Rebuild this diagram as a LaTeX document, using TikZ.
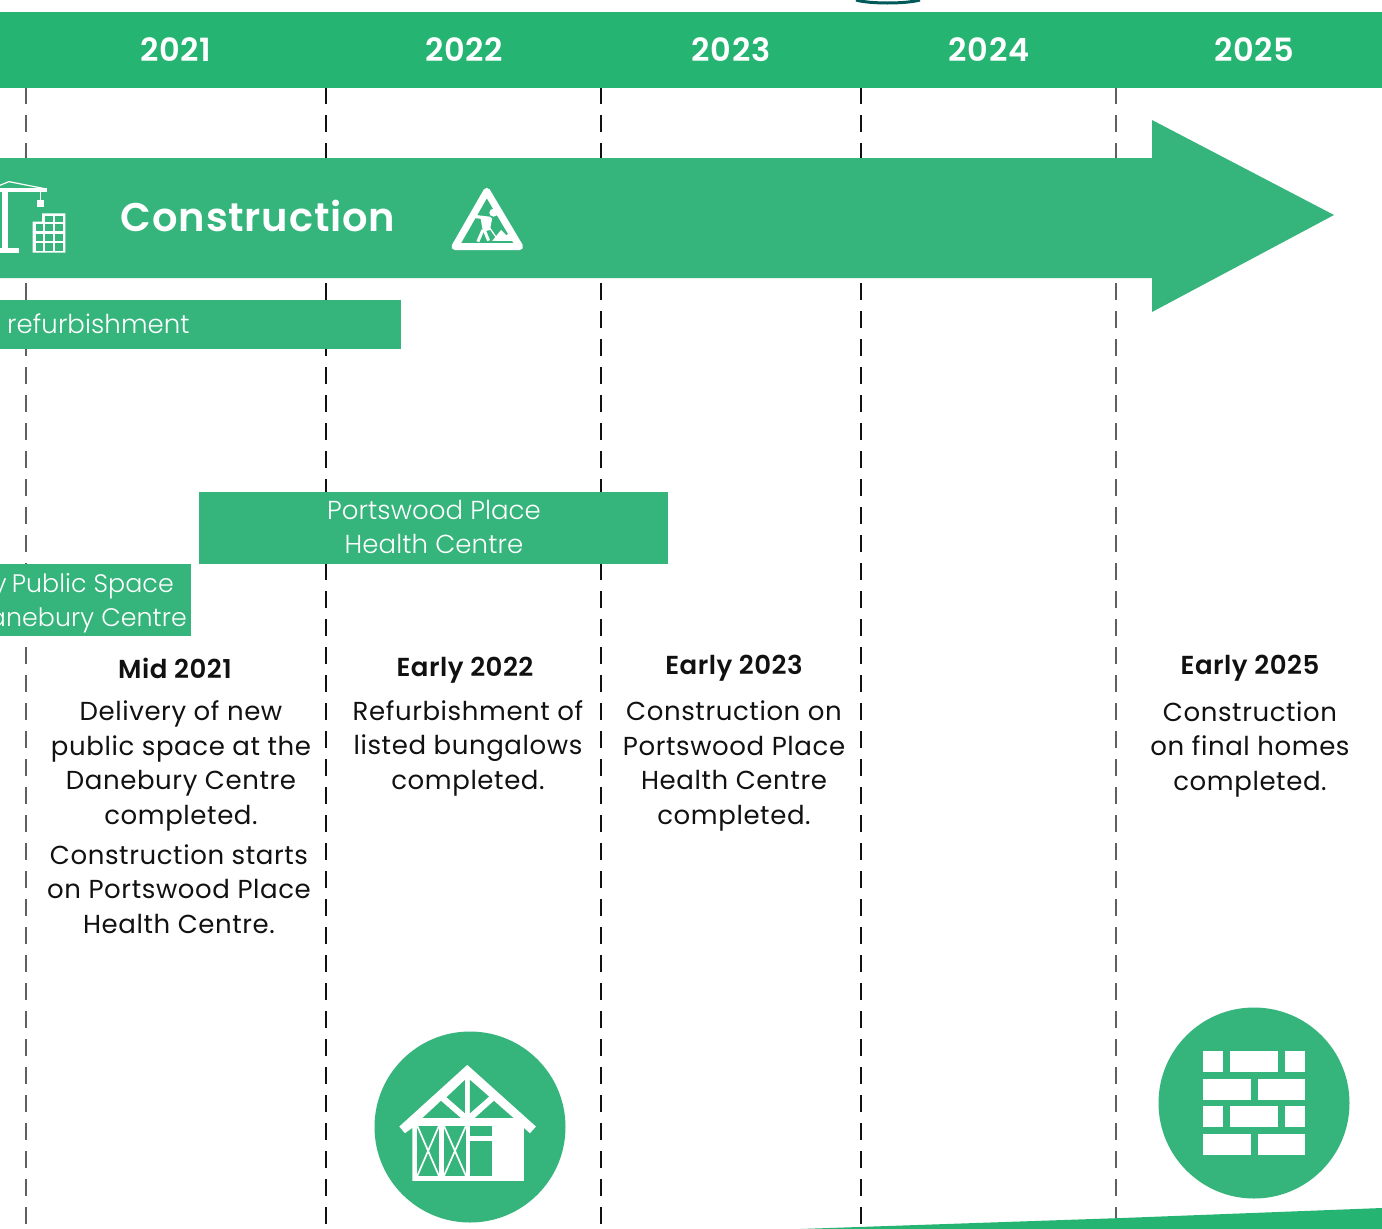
\documentclass[tikz,border=0pt]{standalone}
\usepackage{fontspec}
\setmainfont{Poppins}[LetterSpace=2.3]
\newfontfamily\barfont{Poppins Light}[LetterSpace=0.3]
\newfontfamily\medfont{Poppins SemiBold}[LetterSpace=2.0]
\definecolor{hdr}{HTML}{25B472}
\definecolor{grn}{HTML}{35B57C}
\definecolor{ink}{HTML}{111111}
\newcommand{\bodyfs}{\fontsize{26}{34.5}\selectfont}
\tikzset{
  px/.style={x=1pt,y=-1pt},
  zc/.style={x=0.3333pt,y=-0.3333pt},
  zd/.style={x=0.35714pt,y=-0.3333pt},
  guide/.style={line width=1.1pt,dash pattern=on 17pt off 11pt},
  yearlabel/.style={text=white,font=\fontsize{32}{36}\medfont\selectfont},
  barlabel/.style={text=white,align=center,font=\bodyfs\barfont,inner sep=0pt},
  publabel/.style={text=white,font=\fontsize{25.3}{34.5}\barfont\selectfont,inner sep=0pt},
  datelabel/.style={text=ink,font=\fontsize{26}{32}\medfont\selectfont,inner sep=0pt},
  bodytext/.style={text=ink,align=center,font=\bodyfs,inner sep=0pt},
  iconcircle/.style={fill=grn,draw=none,circle,minimum size=191pt,inner sep=0pt},
}
\begin{document}
\begin{tikzpicture}[px]
\useasboundingbox (0,0) rectangle (1382,1229);
\clip (0,0) rectangle (1382,1229);
\fill[white] (0,0) rectangle (1382,1229);
% guides
\foreach \n/\xx/\cc in {a/26/gray!75!black,b/326/ink,c/601/ink,d/861/ink,e/1116/gray!75!black}{
  \coordinate (\n t) at (\xx,87);
  \coordinate (\n b) at (\xx,1229);
  \draw[guide,draw=\cc] (\n t) -- (\n b);
}
% top fragment
\draw[line width=3pt,draw=teal!70!black] (856,0) .. controls (870,4) and (905,4) .. (920,0);
% header
\fill[hdr] (0,12) rectangle (1382,88);
\node[yearlabel] (y21) at (176,50) {2021};
\node[yearlabel] (y22) at (464,50) {2022};
\node[yearlabel] (y23) at (731,50) {2023};
\node[yearlabel] (y24) at (989,50) {2024};
\node[yearlabel] (y25) at (1254,50) {2025};
% arrow
\fill[grn] (0,158) -- (1152,158) -- (1152,120) -- (1334,215) -- (1152,312) -- (1152,278) -- (0,278) -- cycle;
\node[text=white,font=\fontsize{40}{44}\medfont\selectfont,anchor=center] (constr) at (258,216) {Construction};
% bars
\fill[grn] (0,300) rectangle (401,349);
\node[barlabel,anchor=base west] (refurb) at (7,333) {refurbishment};
\fill[grn] (199,492) rectangle (668,564);
\node[barlabel] (port) at (434,527) {Portswood Place\\Health Centre};
\fill[grn] (0,564) rectangle (191,636);
\node[publabel,anchor=base east] (pub1) at (174,592) {y\kern-2pt\ Public Space};
\node[publabel,anchor=base east] (pub2) at (187,626) {anebury Centre};
% date labels
\node[datelabel] (d21) at (175,668) {Mid 2021};
\node[datelabel] (d22) at (465,670) {Early 2022};
\node[datelabel] (d23) at (734,668) {Early 2023};
\node[datelabel] (d25) at (1250,668) {Early 2025};
% body
\node[bodytext] (b21a) at (181,766) {Delivery of new\\public space at the\\Danebury Centre\\completed.};
\node[bodytext] (b21b) at (179,889) {Construction starts\\on Portswood Place\\Health Centre.};
\node[bodytext] (b22) at (468,748) {Refurbishment of\\listed bungalows\\completed.};
\node[bodytext] (b23) at (734,766) {Construction on\\Portswood Place\\Health Centre\\completed.};
\node[bodytext] (b25) at (1250,749) {Construction\\on final homes\\completed.};
% crane icon
\begin{scope}[zd]
  \fill[white] (5,575) rectangle (22,745);
  \fill[white] (-5,743) rectangle (52,760);
  \fill[white] (-5,565) rectangle (131,576);
  \draw[white,line width=1.2pt] (-5,558) -- (25,545) -- (130,567);
  \draw[white,line width=1.2pt] (113,575) -- (113,600);
  \fill[white] (104,600) rectangle (124,620);
  \fill[white] (91,665) -- (118,665) -- (118,640) -- (183,640) -- (183,758) -- (91,758) -- cycle;
  \foreach \cx in {100,127,154}\foreach \cy in {672,701,730}{
    \fill[grn] (\cx,\cy) rectangle +(21,22);
  }
  \foreach \cx in {127,154}{\fill[grn] (\cx,648) rectangle +(21,18);}
  % worker sign
  \draw[white,line width=7pt,line join=round] (1363,574) -- (1274,740) -- (1455,740) -- cycle;
  \fill[white] (1382,638) circle (12);
  \draw[white,line width=3.2pt,line cap=round] (1333,650) -- (1372,655);
  \fill[white] (1345,650) -- (1378,655) -- (1372,690) -- (1352,695) -- cycle;
  \draw[white,line width=3pt] (1352,690) -- (1338,725);
  \draw[white,line width=3pt] (1356,690) -- (1368,722);
  \draw[white,line width=1.3pt] (1352,655) -- (1392,716);
  \fill[white] (1378,723) -- (1403,690) -- (1418,706) -- (1424,700) -- (1434,723) -- cycle;
\end{scope}
% house icon
\node[iconcircle] (hcirc) at (470,1127) {};
\begin{scope}[zc,shift={(1020,3000)}]
  \fill[white] (178,380) -- (382,195) -- (588,380) -- (570,400) -- (552,384) -- (552,543) -- (217,543) -- (217,384) -- (195,400) -- cycle;
  \foreach \a/\b/\c/\d in {232/378/297/528,312/378/378/528}{
    \fill[grn] (\a,\b) rectangle (\c,\d);
    \draw[white,line width=1.7pt] (\a,\b) -- (\c,\d);
    \draw[white,line width=1.7pt] (\c,\b) -- (\a,\d);
  }
  \fill[grn] (390,378) rectangle (457,408);
  \fill[grn] (390,422) rectangle (457,528);
  \fill[grn] (375,240) -- (375,340) -- (320,292) -- cycle;
  \fill[grn] (390,240) -- (447,290) -- (390,340) -- cycle;
  \fill[grn] (248,354) -- (303,303) -- (362,354) -- cycle;
  \fill[grn] (405,354) -- (462,303) -- (520,354) -- cycle;
\end{scope}
% brick icon
\node[iconcircle] (bcirc) at (1254,1103) {};
\begin{scope}[zc,shift={(3366,2970)}]
  \foreach \yy in {183,348}{
    \fill[white] (243,\yy) rectangle (303,\yy+64);
    \fill[white] (325,\yy) rectangle (467,\yy+64);
    \fill[white] (488,\yy) rectangle (550,\yy+64);
  }
  \foreach \yy in {266,431}{
    \fill[white] (243,\yy) rectangle (386,\yy+64);
    \fill[white] (407,\yy) rectangle (550,\yy+64);
  }
\end{scope}
% bottom wedge
\fill[hdr] (800,1229) -- (1122,1218) -- (1382,1208) -- (1382,1229) -- cycle;
\end{tikzpicture}
\end{document}
